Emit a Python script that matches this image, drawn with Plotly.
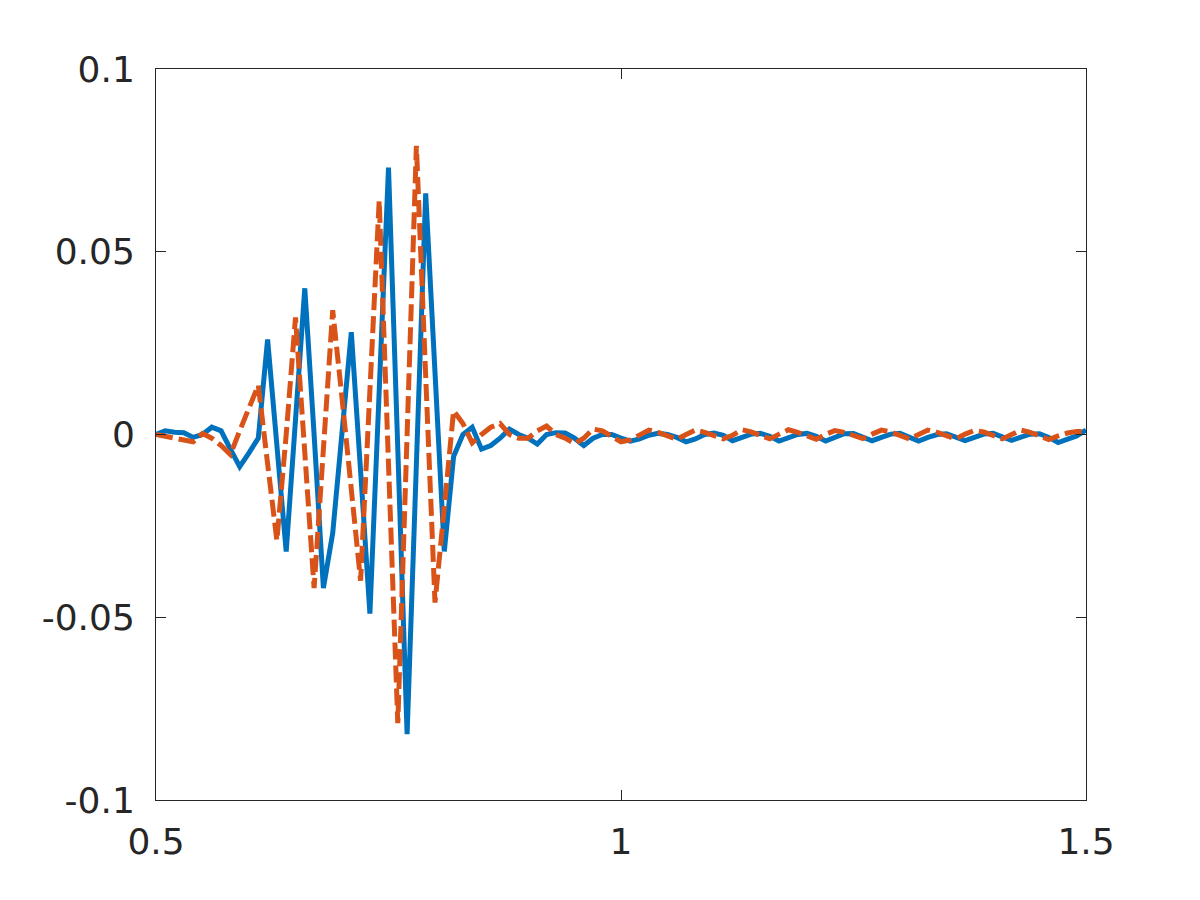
import plotly.graph_objects as go
import numpy as np

# sample times, 0.5 .. 1.5 in steps of 0.01
t = np.round(np.arange(0, 101) * 0.01 + 0.5, 2)

signal_a = [
    0.0, 0.001, 0.0006, 0.0005, -0.0008, 0.0, 0.002, 0.001, -0.004, -0.0088,
    -0.005, -0.001, 0.026, -0.003, -0.032, 0.004, 0.040, 0.0, -0.042, -0.027,
    0.002, 0.028, -0.01, -0.049, 0.012, 0.073, -0.004, -0.082, -0.008, 0.066,
    0.017, -0.032, -0.006, 0.0, 0.002, -0.004, -0.003, -0.001, 0.0015, 0.0,
    -0.001, -0.0026, 0.0, 0.0005, 0.0004, -0.001, -0.003, -0.001, 0.0, 0.0,
    -0.001, -0.0018, -0.0012, -0.0002, 0.0003, 0.0, -0.0008, -0.002, -0.0012, 0.0,
    0.0004, -0.0002, -0.0017, -0.0008, 0.0001, 0.0003, -0.0005, -0.0018, -0.0009, 0.0,
    0.0003, -0.0005, -0.0018, -0.0008, 0.0002, 0.0003, -0.0006, -0.0017, -0.0008, 0.0001,
    0.0003, -0.0006, -0.0018, -0.0008, 0.0, 0.0002, -0.0006, -0.0017, -0.0008, 0.0001,
    0.0003, -0.0006, -0.0016, -0.0007, 0.0001, 0.0002, -0.0008, -0.0022, -0.0012, -0.0004,
    0.0012,
]

signal_b = [
    0.0, -0.0005, -0.001, -0.0015, -0.002, 0.0003, -0.001, -0.003, -0.0055, 0.001,
    0.007, 0.0135, -0.008, -0.029, 0.0, 0.032, -0.005, -0.042, -0.004, 0.034,
    0.01, -0.015, -0.040, 0.012, 0.064, -0.008, -0.079, 0.0, 0.079, 0.016,
    -0.046, -0.02, 0.0065, 0.003, -0.0023, 0.0, 0.002, 0.003, 0.0, -0.001,
    -0.001, 0.001, 0.0023, 0.0, -0.001, -0.0025, -0.001, 0.0015, 0.001, -0.0005,
    -0.002, -0.0015, 0.0, 0.0012, 0.0006, -0.0004, -0.0013, 0.0, 0.0012, 0.0006,
    -0.0003, -0.0012, -0.0002, 0.0013, 0.0007, -0.0004, -0.0012, 0.0001, 0.0013, 0.0006,
    -0.0004, -0.0013, 0.0, 0.0011, 0.0006, -0.0003, -0.0011, 0.0001, 0.0012, 0.0007,
    -0.0003, -0.0012, 0.0, 0.0012, 0.0006, -0.0004, -0.0012, 0.0001, 0.0011, 0.0007,
    -0.0003, -0.0012, 0.0, 0.0012, 0.0006, -0.0004, -0.0014, -0.0004, 0.0004, 0.0008,
    0.0008,
]

x_ticks = [0.5, 1, 1.5]
x_labels = ["0.5", "1", "1.5"]
y_ticks = [-0.1, -0.05, 0, 0.05, 0.1]
y_labels = ["-0.1", "-0.05", "0", "0.05", "0.1"]

fig = go.Figure()

fig.add_trace(go.Scatter(
    x=t, y=signal_a, mode="lines",
    line=dict(color="#0072BD", width=5),
    showlegend=False,
))
fig.add_trace(go.Scatter(
    x=t, y=signal_b, mode="lines",
    line=dict(color="#D95319", width=5, dash="17px,6px"),
    showlegend=False,
))

axis_style = dict(
    showgrid=False, zeroline=False,
    showline=True, linecolor="#262626", linewidth=1,
    mirror="ticks", ticks="inside", ticklen=10, tickwidth=1, tickcolor="#262626",
    tickfont=dict(family="DejaVu Sans", size=36, color="#262626"),
)

fig.update_xaxes(range=[0.5, 1.5], tickvals=x_ticks, ticktext=x_labels, ticklabelstandoff=10, **axis_style)
fig.update_yaxes(range=[-0.1, 0.1], tickvals=y_ticks, ticktext=y_labels, ticklabelstandoff=13, **axis_style)

fig.update_layout(
    width=1200, height=900,
    margin=dict(l=148, r=122, t=61, b=108),
    paper_bgcolor="white",
    plot_bgcolor="white",
)

fig.write_html("out.html")
